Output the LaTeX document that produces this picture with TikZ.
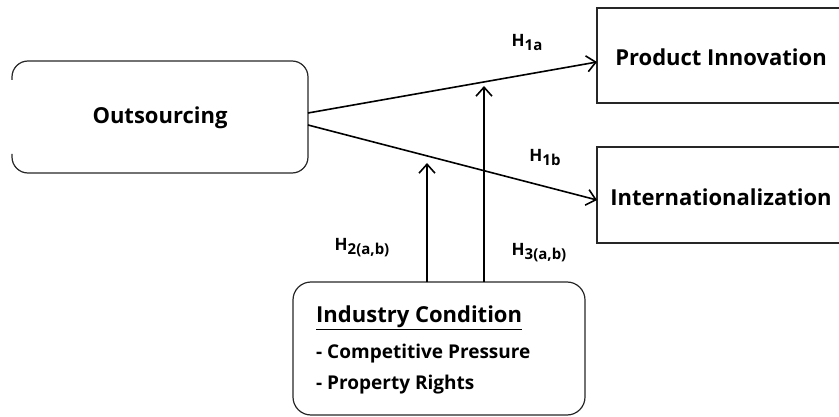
\documentclass[tikz,border=0pt]{standalone}
\usepackage{fontspec}
\setmainfont{Open Sans}
\usetikzlibrary{arrows.meta,calc}
\newcommand{\hsub}[1]{\raisebox{-4pt}{\fontsize{15}{18}\selectfont #1}}
\begin{document}
\begin{tikzpicture}[x=1pt,y=-1pt,
  lbl/.style={inner sep=0pt, font=\bfseries\fontsize{22}{26}\selectfont},
  sublbl/.style={inner sep=0pt, anchor=west, font=\bfseries\fontsize{19}{23}\selectfont},
  hlab/.style={inner sep=0pt, font=\bfseries\fontsize{17}{20}\selectfont},
  frame/.style={line width=1.2pt, draw=black!85},
  edge/.style={line width=1.6pt, -{Straight Barb[length=9pt,width=16pt,line width=1.6pt]}}]
\useasboundingbox (0,0) rectangle (839,417);
\begin{scope}
\clip (0,0) rectangle (839,417);
% boxes
\draw[frame, rounded corners=16pt] (12,80) -- (12,61) -- (308,61) -- (308,173) -- (12,173) -- (12,154);
\draw[frame] (860,8) -- (597,8) -- (597,103) -- (860,103);
\draw[frame] (860,147) -- (597,147) -- (597,243) -- (860,243);
\draw[frame, rounded corners=18pt] (293,282) rectangle (585,415);
% texts
\node[lbl] (out) at (160,118) {Outsourcing};
\node[lbl] (pi) at (721,57) {Product Innovation};
\node[lbl] (int) at (721,197) {Internationalization};
\node[sublbl, font=\bfseries\fontsize{22}{26}\selectfont] (ic) at (316,318) {\underline{Industry Condition}};
\node[sublbl] (cp) at (316,354) {- Competitive Pressure};
\node[sublbl] (pr) at (316,385) {- Property Rights};
\node[hlab] (h1a) at (527,43) {H\hsub{1a}};
\node[hlab] (h1b) at (545,158) {H\hsub{1b}};
\node[hlab] (h2) at (362,248) {H\hsub{2(a,b)}};
\node[hlab] (h3) at (539,253) {H\hsub{3(a,b)}};
% connector ends
\coordinate (o1) at (308,113);
\coordinate (o2) at (308,125);
\coordinate (p1) at (597,62);
\coordinate (p2) at (597,200);
\coordinate (c1) at (427,282);
\coordinate (c2) at (484,282);
\coordinate (m1) at (427,163);
\coordinate (m2) at (484,86);
\draw[edge] (o1) -- (p1);
\draw[edge] (o2) -- (p2);
\draw[edge] (c1) -- (m1);
\draw[edge] (c2) -- (m2);
\end{scope}
\end{tikzpicture}
\end{document}
